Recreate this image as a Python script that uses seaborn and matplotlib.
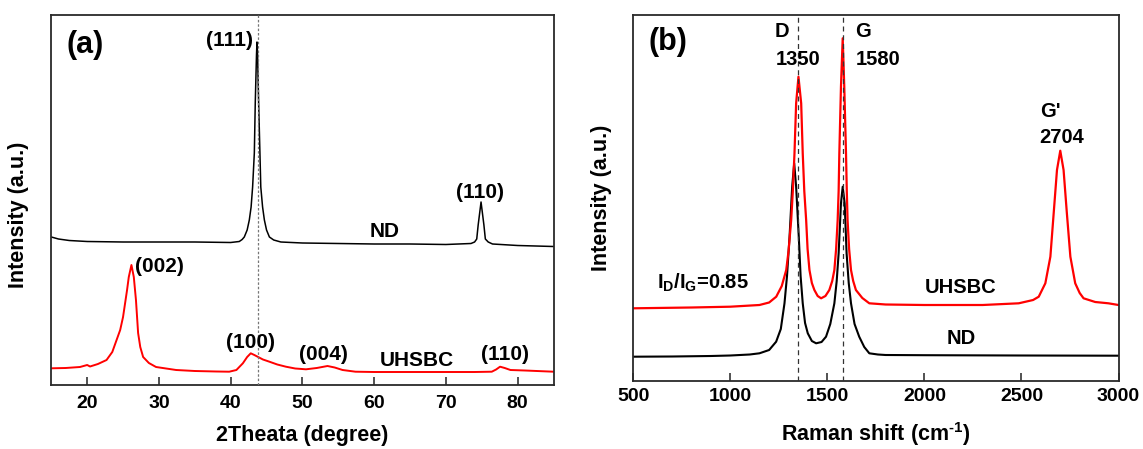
import matplotlib
matplotlib.use("Agg")
import numpy as np
import pandas as pd
import matplotlib.pyplot as plt
import seaborn as sns

# ---------------- data ----------------
# (a) XRD, ND (black)
xrd_theta_nd = [15.0, 16.0, 17.5, 20.0, 25.0, 30.0, 35.0, 40.0, 41.2, 41.6, 41.9, 42.3, 42.6,
                42.85, 43.06, 43.3, 43.43, 43.6, 43.67, 43.75, 43.9, 44.08, 44.2, 44.45,
                44.7, 45.0, 45.4, 46.0, 47.0, 50.0, 55.0, 60.0, 65.0, 70.0, 73.5, 74.0,
                74.3, 74.5, 74.9, 75.3, 75.5, 75.9, 76.5, 80.0, 85.0]
xrd_int_nd = [148, 146, 144.5, 143.5, 143, 143, 143, 142.5, 143.5, 145.5, 148, 155, 165,
              178, 198, 232, 282, 330, 343, 330, 282, 232, 198, 178,
              165, 155, 148, 145, 143, 142, 141.5, 141, 141, 140.5, 141.5, 143,
              146, 160, 183, 160, 146, 143, 141, 139.5, 138.5]
# (a) XRD, UHSBC (red)
xrd_theta_uh = [15.0, 17.0, 19.0, 20.0, 20.4, 21.5, 22.7, 23.5, 24.1, 24.6, 25.0, 25.56,
                25.8, 26.17, 26.5, 26.8, 27.1, 27.4, 27.8, 28.6, 29.6, 32.4, 35.0, 38.0,
                39.8, 40.8, 41.7, 42.3, 42.8, 43.3, 43.75, 44.5, 45.4, 46.5, 47.7, 49.0,
                50.5, 52.0, 53.5, 54.5, 55.6, 57.4, 60.0, 65.0, 70.0, 74.0, 76.4, 77.0,
                77.55, 78.2, 79.0, 81.0, 85.0]
xrd_int_uh = [16.7, 17, 18, 20, 18.5, 21, 25, 33, 45, 55, 68, 95,
              108, 120, 108, 85, 52, 38, 28, 22, 18, 15, 14, 13.5,
              13.3, 15, 21.7, 28, 31.7, 30, 28.3, 25.5, 23.3, 20.5, 18.3, 16.5,
              15.7, 17, 19, 17.5, 15, 13.3, 13, 13, 13, 13, 13.3, 15.5,
              18.3, 17, 15, 14.5, 13.3]

# (b) Raman, ND (black)
raman_x_nd = [500, 700, 900, 1000, 1100, 1150, 1200, 1236, 1260, 1279, 1292, 1305,
              1318.6, 1329, 1339, 1352.7, 1362, 1373, 1385, 1399, 1420, 1442, 1470,
              1493, 1515, 1536, 1548, 1558, 1570, 1579, 1589, 1599, 1610, 1621.7,
              1640, 1664, 1690, 1716, 1760, 1800, 2000, 2500, 3000]
raman_y_nd = [24.3, 24.5, 25, 25.5, 26.5, 27.7, 31, 39.3, 52, 77.7, 105, 144,
              194.3, 217.7, 194.3, 144, 105, 77.7, 58, 47.7, 40, 37.7, 39,
              44.3, 57, 77.7, 100, 127.7, 177.7, 194.3, 177.7, 127.7, 98, 77.7,
              57, 44.3, 34, 27.7, 26.5, 26, 25.8, 25.5, 25.3]
# (b) Raman, UHSBC (red)
raman_x_uh = [500, 800, 1000, 1150, 1200, 1236.5, 1265, 1288, 1300, 1313.5, 1322, 1330.5,
              1339, 1351, 1365, 1373, 1381, 1390.6, 1398, 1407.6, 1420, 1433, 1450,
              1467.6, 1490, 1510, 1525, 1536, 1545, 1553, 1558, 1561.6, 1570, 1579,
              1587, 1596, 1600, 1604, 1612, 1621.7, 1633, 1647, 1680, 1716, 1800,
              2000, 2300, 2486, 2560, 2589, 2623, 2649, 2666, 2683, 2700, 2717, 2734,
              2752, 2777, 2800, 2820, 2880, 2948, 3000]
raman_y_uh = [72.7, 73.5, 74.3, 76, 78.5, 84.3, 95, 111, 130, 161, 190, 227.7,
              277.7, 304.3, 277.7, 227.7, 190, 161, 132, 111, 98, 91, 85,
              82.7, 85, 91, 100, 111, 132, 161, 190, 227.7, 294.3, 342.7,
              294.3, 227.7, 190, 161, 132, 111, 100, 91, 83, 77.7, 76.5,
              76, 76, 77.7, 81, 84.3, 97.7, 124.3, 167.7, 211, 230.3, 211, 167.7,
              124.3, 97.7, 88, 82.7, 79, 77.7, 76]

xrd_ticks = [20, 30, 40, 50, 60, 70, 80]
raman_ticks = [500, 1000, 1500, 2000, 2500, 3000]
xrd_ref_line = [43.75]
raman_ref_lines = [1350, 1580]

# peak labels: text, x, baseline y
xrd_labels = ["(111)", "ND", "(110)", "(002)", "(100)", "(004)", "UHSBC", "(110)"]
xrd_label_x = [39.84, 61.5, 74.8, 30.05, 42.8, 53.0, 65.9, 78.3]
xrd_label_y = [339, 147.7, 186.7, 113.3, 36.7, 25, 19.3, 25]

raman_labels = ["D", "1350", "G", "1580", "UHSBC", "ND"]
raman_label_x = [1264, 1347, 1685, 1763, 2186, 2188]
raman_label_y = [344.3, 316, 344.3, 316, 88.3, 36.7]

# ---------------- style ----------------
sns.set_style("ticks")
plt.rcParams["font.family"] = ["Liberation Sans", "DejaVu Sans"]
plt.rcParams["font.weight"] = "bold"
plt.rcParams["axes.labelweight"] = "bold"
plt.rcParams["text.color"] = "black"
plt.rcParams["axes.labelcolor"] = "black"
plt.rcParams["mathtext.fontset"] = "custom"
plt.rcParams["mathtext.rm"] = "Liberation Sans:bold"
plt.rcParams["mathtext.bf"] = "Liberation Sans:bold"
plt.rcParams["mathtext.it"] = "Liberation Sans:bold"
plt.rcParams["axes.unicode_minus"] = False

W, H = 1143, 449
fig = plt.figure(figsize=(W / 100, H / 100), dpi=100)
axA = fig.add_axes([51.3 / W, (H - 385) / H, (553.5 - 51.3) / W, 370 / H])
axB = fig.add_axes([633.3 / W, (H - 381) / H, (1118.5 - 633.3) / W, 366 / H])

df_a_nd = pd.DataFrame({"x": xrd_theta_nd, "y": xrd_int_nd})
df_a_uh = pd.DataFrame({"x": xrd_theta_uh, "y": xrd_int_uh})
df_b_nd = pd.DataFrame({"x": raman_x_nd, "y": raman_y_nd})
df_b_uh = pd.DataFrame({"x": raman_x_uh, "y": raman_y_uh})

sns.lineplot(data=df_a_nd, x="x", y="y", ax=axA, color="black", lw=1.1, estimator=None, sort=False)
sns.lineplot(data=df_a_uh, x="x", y="y", ax=axA, color="#ff0000", lw=1.4, estimator=None, sort=False)
sns.lineplot(data=df_b_nd, x="x", y="y", ax=axB, color="black", lw=1.5, estimator=None, sort=False)
sns.lineplot(data=df_b_uh, x="x", y="y", ax=axB, color="#ff0000", lw=1.6, estimator=None, sort=False)

for v in xrd_ref_line:
    axA.axvline(v, color="#777777", lw=0.9, ls=(0, (2, 1.5)), zorder=3)
for v in raman_ref_lines:
    axB.axvline(v, color="#333333", lw=0.9, ls=(0, (4, 3)), zorder=3)

axA.set_xlim(15, 85)
axA.set_ylim(0, 370)
axB.set_xlim(500, 3000)
axB.set_ylim(0, 366)

for ax, ticks, pad in ((axA, xrd_ticks, 7), (axB, raman_ticks, 5)):
    ax.set_xticks(ticks)
    ax.set_yticks([])
    ax.tick_params(axis="x", direction="in", length=6, width=1.1, labelsize=14, pad=pad,
                   top=False, colors="#222222", labelcolor="black")
    for s in ax.spines.values():
        s.set_visible(True)
        s.set_linewidth(1.3)
        s.set_color("#2a2a2a")
    for lab in ax.get_xticklabels():
        lab.set_fontweight("bold")

axA.set_xlabel("2Theata (degree)", fontsize=15.5, fontweight="bold")
axA.set_ylabel("Intensity (a.u.)", fontsize=15.5, fontweight="bold")
axB.set_xlabel(r"Raman shift (cm$^{\text{-1}}$)", fontsize=15.5, fontweight="bold")
axB.set_ylabel("Intensity (a.u.)", fontsize=15.5, fontweight="bold")
axA.xaxis.set_label_coords(0.5, -0.108)
axB.xaxis.set_label_coords(0.5, -0.108)
axA.yaxis.set_label_coords(-0.045, 0.46)
axB.yaxis.set_label_coords(-0.044, 0.5)

# panel tags
axA.text(19.7, 331.7, "(a)", fontsize=22, fontweight="bold", ha="center", va="baseline")
axB.text(679.8, 331.0, "(b)", fontsize=22, fontweight="bold", ha="center", va="baseline")

for t, x, y in zip(xrd_labels, xrd_label_x, xrd_label_y):
    axA.text(x, y, t, fontsize=15, fontweight="bold", ha="center", va="baseline")
for t, x, y in zip(raman_labels, raman_label_x, raman_label_y):
    axB.text(x, y, t, fontsize=14.5, fontweight="bold", ha="center", va="baseline")
axB.text(2594, 264.3, "G'", fontsize=14.5, fontweight="bold", ha="left", va="baseline")
axB.text(2594, 237.7, "2704", fontsize=14.5, fontweight="bold", ha="left", va="baseline")
axB.text(620, 92.7, r"I$_{\mathbf{D}}$/I$_{\mathbf{G}}$=0.85", fontsize=14.5,
         fontweight="bold", ha="left", va="baseline")

fig.savefig("out.png", dpi=100)
